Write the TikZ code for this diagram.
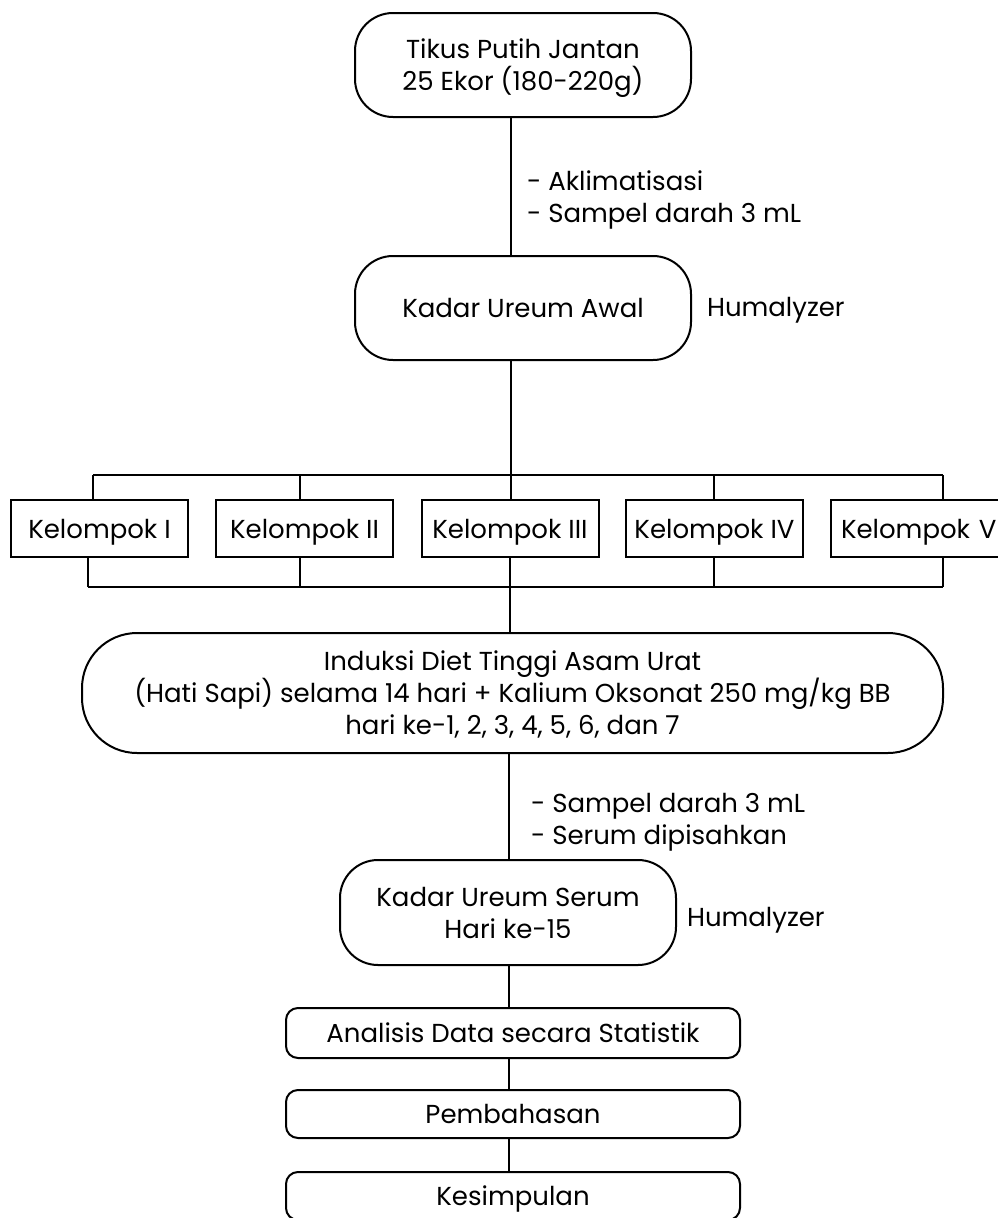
\documentclass[tikz,border=0pt]{standalone}
\usepackage{fontspec}
\setmainfont{Poppins}
\begin{document}
\begin{tikzpicture}[x=1pt,y=-1pt,
  every node/.style={font=\fontsize{26}{32}\selectfont, inner sep=0pt},
  line width=2pt,
  rbox/.style={draw, line width=2pt, rounded corners=#1, align=center, text depth=0pt},
  gbox/.style={draw, line width=2pt, minimum width=177pt, minimum height=57pt, text depth=0pt},
  lbl/.style={anchor=west, align=left}]
\useasboundingbox (0,0) rectangle (998,1218);
\node[rbox=38, minimum width=336, minimum height=104] (b1) at (523,65) {Tikus Putih Jantan\\25 Ekor (180-220g)};
\node[rbox=38, minimum width=336, minimum height=104] (b2) at (523,308) {Kadar Ureum Awal};
\node[anchor=west] (h1) at (706,310) {Humalyzer};
\node[lbl] (l1) at (526,200) {- Aklimatisasi\\- Sampel darah 3 mL};
\draw ([xshift=-12]b1.south) -- ([xshift=-12]b2.north);
% groups
\node[gbox] (k1) at (99.5,528.5) {Kelompok I};
\node[gbox] (k2) at (304.5,528.5) {Kelompok II};
\node[gbox] (k3) at (510,528.5) {Kelompok III};
\node[gbox] (k4) at (714.5,528.5) {Kelompok IV};
\node[gbox, text width=157, align=left, inner xsep=10] (k5) at (919.5,528.5) {Kelompok V};
\coordinate (t1) at (93,475);
\coordinate (t2) at (300,475);
\coordinate (t3) at (511,475);
\coordinate (t4) at (714,475);
\coordinate (t5) at (943,475);
\coordinate (u1) at (88,587);
\coordinate (u2) at (300,587);
\coordinate (u3) at (510,587);
\coordinate (u4) at (714,587);
\coordinate (u5) at (943,587);
\draw ([xshift=-12]b2.south) -- (t3);
\draw (t1) -- (t5);
\draw (u1) -- (u5);
\draw (t1) -- (t1 |- k1.north);
\draw (t2) -- (t2 |- k2.north);
\draw (t3) -- (t3 |- k3.north);
\draw (t4) -- (t4 |- k4.north);
\draw (t5) -- (t5 |- k5.north);
\draw (u1) -- (u1 |- k1.south);
\draw (u2) -- (u2 |- k2.south);
\draw (u3) -- (u3 |- k3.south);
\draw (u4) -- (u4 |- k4.south);
\draw (u5) -- (u5 |- k5.south);
% induksi
\node[rbox=55, minimum width=861, minimum height=120] (b3) at (512.5,693) {Induksi Diet Tinggi Asam Urat\\(Hati Sapi) selama 14 hari + Kalium Oksonat 250 mg/kg BB\\hari ke-1, 2, 3, 4, 5, 6, dan 7};
\draw (u3) -- (u3 |- b3.north);
\node[rbox=38, minimum width=336, minimum height=105] (b4) at (508,912.5) {Kadar Ureum Serum\\Hari ke-15};
\node[anchor=west] (h2) at (686,920) {Humalyzer};
\node[lbl] (l2) at (530,822) {- Sampel darah 3 mL\\- Serum dipisahkan};
\draw ([xshift=-3.5]b3.south) -- ([xshift=1]b4.north);
\node[rbox=12, minimum width=454, minimum height=50] (b5) at (513,1033) {Analisis Data secara Statistik};
\node[rbox=12, minimum width=454, minimum height=48] (b6) at (513,1114) {Pembahasan};
\node[rbox=12, minimum width=454, minimum height=48] (b7) at (513,1196) {Kesimpulan};
\draw ([xshift=1]b4.south) -- ([xshift=-4]b5.north);
\draw ([xshift=-4]b5.south) -- ([xshift=-4]b6.north);
\draw ([xshift=-4]b6.south) -- ([xshift=-4]b7.north);
\end{tikzpicture}
\end{document}
